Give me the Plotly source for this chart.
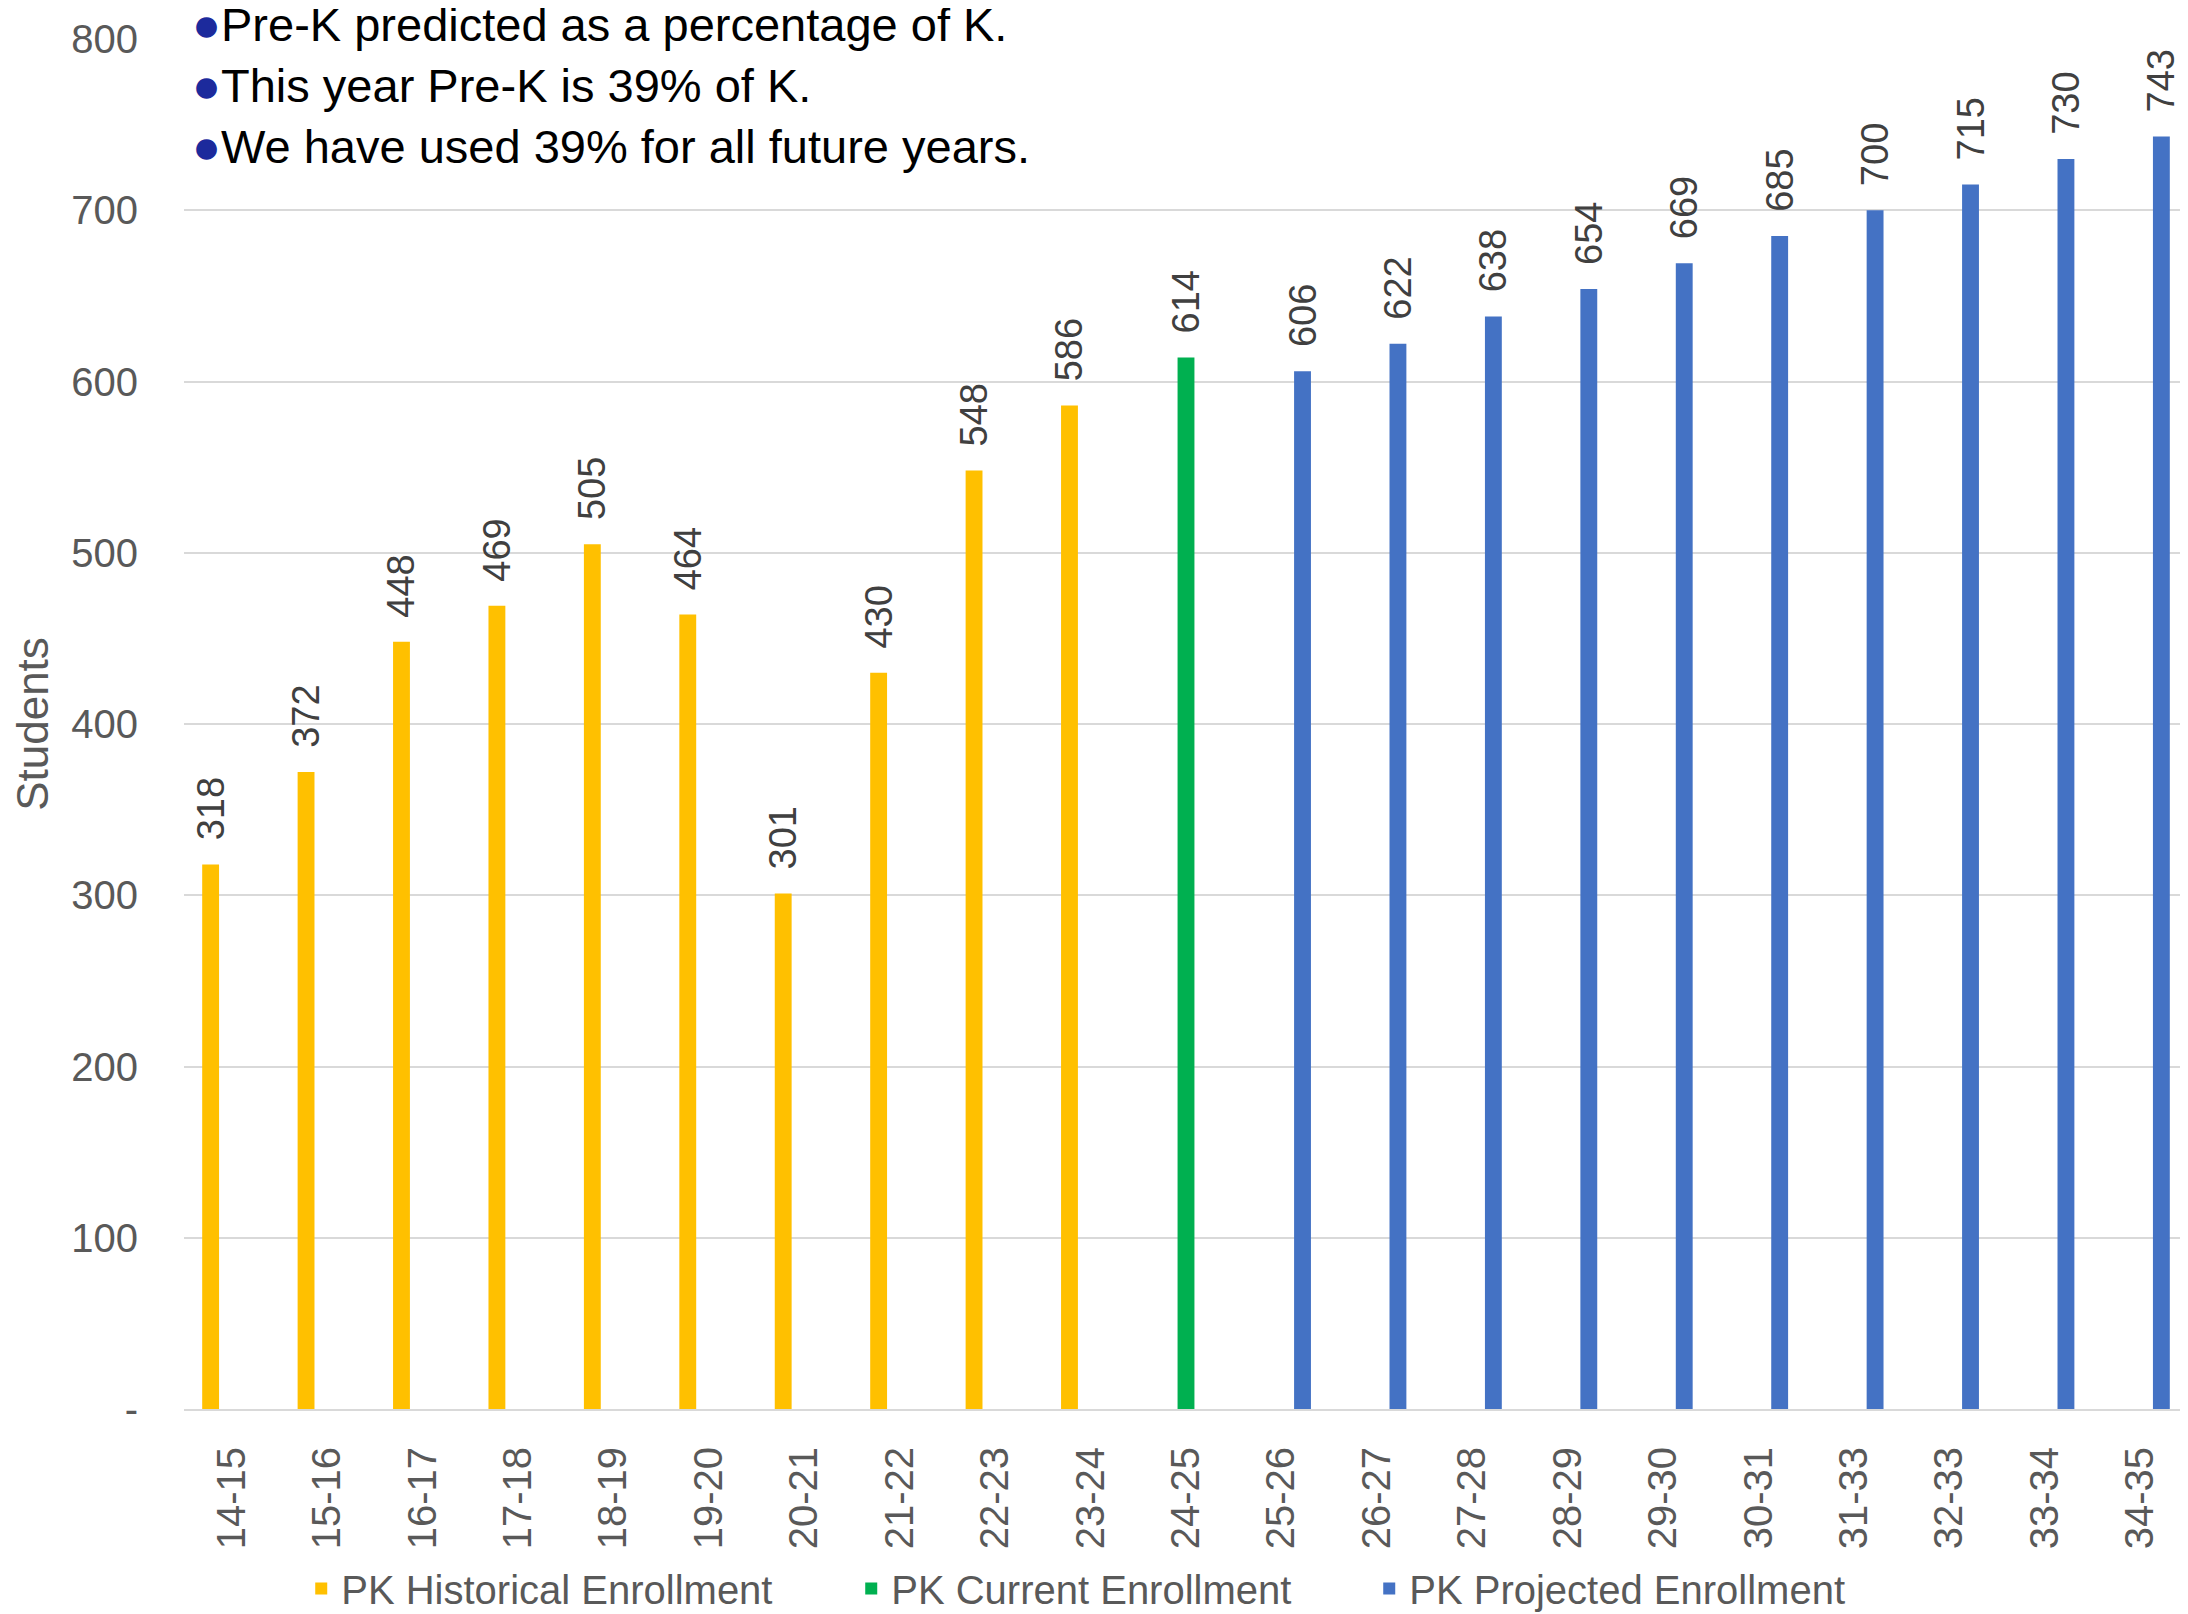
import plotly.graph_objects as go

years = ["14-15", "15-16", "16-17", "17-18", "18-19", "19-20", "20-21", "21-22",
         "22-23", "23-24", "24-25", "25-26", "26-27", "27-28", "28-29", "29-30",
         "30-31", "31-33", "32-33", "33-34", "34-35"]
historical = [318, 372, 448, 469, 505, 464, 301, 430, 548, 586]
current = [614]
projected = [606, 622, 638, 654, 669, 685, 700, 715, 730, 743]

y_ticks = [0, 100, 200, 300, 400, 500, 600, 700, 800]
y_tick_text = ["-", "100", "200", "300", "400", "500", "600", "700", "800"]

notes = ["Pre-K predicted as a percentage of K.",
         "This year Pre-K is 39% of K.",
         "We have used 39% for all future years."]

FONT = "Liberation Sans, Arial, sans-serif"

n_hist = len(historical)
n_cur = len(current)
hist_y = historical + [None] * (len(years) - n_hist)
cur_y = [None] * n_hist + current + [None] * (len(years) - n_hist - n_cur)
proj_y = [None] * (n_hist + n_cur) + projected


def labels(vals):
    return ["\u00a0\u00a0" + str(v) if v is not None else "" for v in vals]


fig = go.Figure()
series = [
    ("PK Historical Enrollment", hist_y, "#FFC000", 505),
    ("PK Current Enrollment", cur_y, "#00B050", 473),
    ("PK Projected Enrollment", proj_y, "#4472C4", 460),
]
for name, vals, color, lw in series:
    fig.add_trace(go.Bar(
        x=years, y=vals, name=name,
        marker=dict(color=color, line=dict(width=0)),
        text=labels(vals), textposition="outside", textangle=-90,
        constraintext="none", cliponaxis=False,
        textfont=dict(family=FONT, size=38, color="#404040"),
        legendwidth=lw,
    ))

# page body has an 8px margin, so the figure is 8px smaller than the window
fig.update_layout(
    width=2180, height=1606,
    margin=dict(l=176, r=0, t=31, b=205, autoexpand=False),
    paper_bgcolor="white", plot_bgcolor="white",
    barmode="group", bargap=0.337, bargroupgap=0.2,
    font=dict(family=FONT, size=40, color="#595959"),
    showlegend=True,
    legend=dict(orientation="h", x=0.0585, xanchor="left", y=-0.131, yanchor="middle",
                font=dict(family=FONT, size=40, color="#595959"),
                bgcolor="rgba(0,0,0,0)"),
    xaxis=dict(
        type="category", range=[-0.5, 20.5], automargin=False,
        tickangle=-90, tickfont=dict(family=FONT, size=40, color="#595959"),
        ticklabelstandoff=20,
        showgrid=False, showline=True, linecolor="#d9d9d9", linewidth=2,
        ticks="",
    ),
    yaxis=dict(
        range=[0, 800], tickvals=y_ticks, ticktext=y_tick_text, automargin=False,
        tickfont=dict(family=FONT, size=40, color="#595959"),
        ticklabelstandoff=45,
        showgrid=True, gridcolor="#d9d9d9", gridwidth=2,
        zeroline=False, ticks="",
        title=dict(text="Students", font=dict(family=FONT, size=44, color="#595959"),
                   standoff=40),
    ),
)

note_y = [1.0105, 0.9664, 0.9212]
for txt, ny in zip(notes, note_y):
    fig.add_annotation(
        xref="paper", yref="paper", x=0.003, y=ny, xanchor="left", yanchor="middle",
        showarrow=False,
        text='<span style="color:#1c2a9c;font-size:48px">\u25cf</span>' + txt,
        font=dict(family=FONT, size=47, color="#000000"),
    )

fig.write_html("out.html")
